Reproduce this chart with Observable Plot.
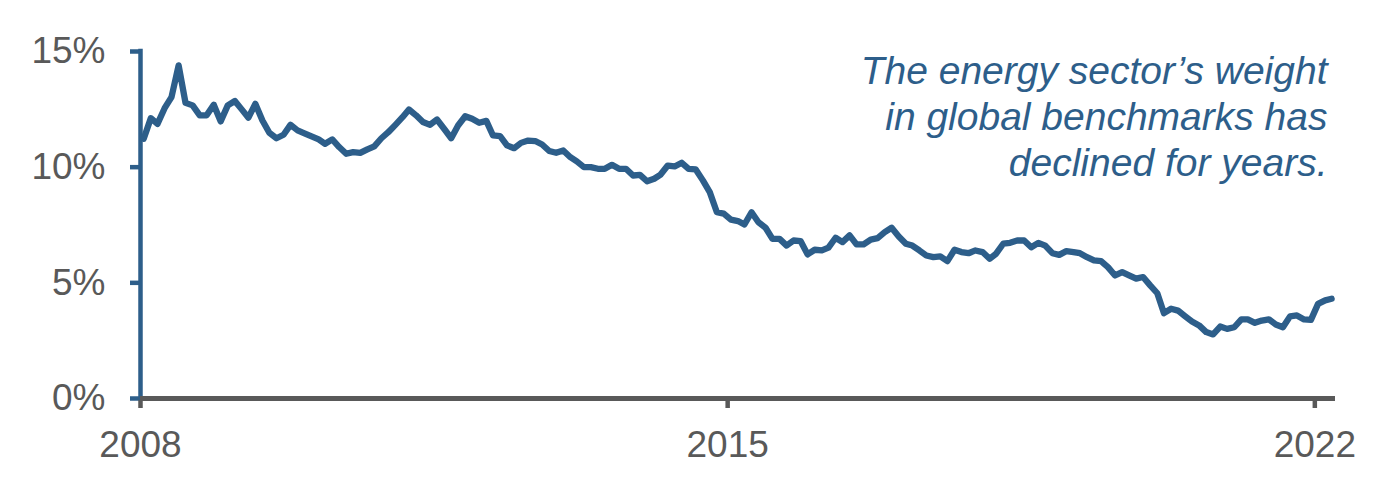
<!DOCTYPE html>
<html>
<head>
<meta charset="utf-8">
<script src="https://cdn.jsdelivr.net/npm/d3@7"></script>
<script src="https://cdn.jsdelivr.net/npm/@observablehq/plot@0.6"></script>
<style>
  html, body { margin: 0; padding: 0; background: #ffffff; }
  #chart { width: 1386px; height: 495px; overflow: hidden; }
</style>
</head>
<body>
<div id="chart"></div>
<script>
// Energy sector weight in global benchmarks (%), monthly Jan 2008 – Mar 2022
const startMonth = "2008-01";
const weights = [
  11.23, 12.12, 11.87, 12.55, 13.03, 14.40, 12.78, 12.67, 12.24, 12.24, 12.70, 11.98,
  12.67, 12.86, 12.52, 12.14, 12.74, 12.02, 11.49, 11.25, 11.40, 11.83, 11.59, 11.46,
  11.33, 11.20, 11.01, 11.20, 10.87, 10.58, 10.65, 10.62, 10.77, 10.90, 11.25, 11.51,
  11.83, 12.16, 12.49, 12.24, 11.95, 11.83, 12.06, 11.66, 11.25, 11.80, 12.20, 12.09,
  11.92, 12.00, 11.37, 11.34, 10.94, 10.82, 11.05, 11.15, 11.13, 10.98, 10.70, 10.62,
  10.72, 10.43, 10.25, 10.00, 10.00, 9.93, 9.93, 10.10, 9.93, 9.93, 9.64, 9.67,
  9.39, 9.50, 9.68, 10.07, 10.03, 10.19, 9.93, 9.90, 9.43, 8.92, 8.05, 7.99,
  7.73, 7.67, 7.52, 8.05, 7.62, 7.38, 6.90, 6.90, 6.61, 6.83, 6.80, 6.23,
  6.43, 6.40, 6.52, 6.95, 6.76, 7.05, 6.66, 6.66, 6.87, 6.93, 7.19, 7.38,
  7.00, 6.69, 6.61, 6.40, 6.18, 6.11, 6.14, 5.94, 6.43, 6.33, 6.28, 6.40,
  6.33, 6.04, 6.26, 6.69, 6.73, 6.83, 6.83, 6.54, 6.73, 6.61, 6.28, 6.21,
  6.37, 6.33, 6.28, 6.11, 5.97, 5.94, 5.68, 5.32, 5.46, 5.32, 5.18, 5.25,
  4.89, 4.55, 3.69, 3.88, 3.80, 3.56, 3.33, 3.16, 2.87, 2.77, 3.11, 3.01,
  3.08, 3.42, 3.42, 3.27, 3.37, 3.42, 3.20, 3.08, 3.55, 3.59, 3.42, 3.40,
  4.09, 4.24, 4.31
];
const xTickYears = ["2008", "2015", "2022"];
const yTicks = [0, 5, 10, 15];
const annotation = "The energy sector’s weight\nin global benchmarks has\ndeclined for years.";

const blue = "#2d5e8a";
const grey = "#595959";
const font = "'Liberation Sans', Arial, Helvetica, sans-serif";

const parseMonth = d3.utcParse("%Y-%m");
const start = parseMonth(startMonth);
const data = weights.map((v, i) => ({
  date: d3.utcDay.offset(d3.utcMonth.offset(start, i), 14),
  value: v
}));
const xStart = d3.utcParse("%Y")("2008");
const xEnd = d3.utcMonth.offset(start, weights.length);
const xTicks = xTickYears.map(d3.utcParse("%Y"));

const chart = Plot.plot({
  width: 1386,
  height: 495,
  marginLeft: 140,
  marginRight: 51,
  marginTop: 51,
  marginBottom: 97,
  style: { fontFamily: font, background: "#ffffff", color: grey, overflow: "visible" },
  x: { type: "utc", domain: [xStart, xEnd] },
  y: { domain: [0, 15] },
  marks: [
    Plot.axisY({
      ticks: yTicks,
      tickSize: 10,
      tickPadding: 25,
      tickFormat: d => d + "%",
      stroke: blue,
      strokeWidth: 4.5,
      fill: grey,
      fontSize: 37,
      label: null
    }),
    Plot.axisX({
      ticks: xTicks,
      tickSize: 10,
      tickPadding: 22,
      tickFormat: d3.utcFormat("%Y"),
      stroke: grey,
      strokeWidth: 4.5,
      fill: grey,
      fontSize: 37,
      label: null
    }),
    Plot.ruleX([xStart], { y1: 0, y2: 15, stroke: blue, strokeWidth: 4.5, strokeLinecap: "square" }),
    Plot.ruleY([0], { x1: xStart, x2: xEnd, stroke: grey, strokeWidth: 4.8 }),
    Plot.line(data, {
      x: "date",
      y: "value",
      stroke: blue,
      strokeWidth: 6.3,
      strokeLinejoin: "round",
      strokeLinecap: "round"
    }),
    Plot.text([annotation], {
      frameAnchor: "top-right",
      textAnchor: "end",
      lineAnchor: "top",
      lineHeight: 1.18,
      dx: -8,
      fill: blue,
      fontSize: 39,
      fontStyle: "italic"
    })
  ]
});
document.getElementById("chart").appendChild(chart);
</script>
</body>
</html>
